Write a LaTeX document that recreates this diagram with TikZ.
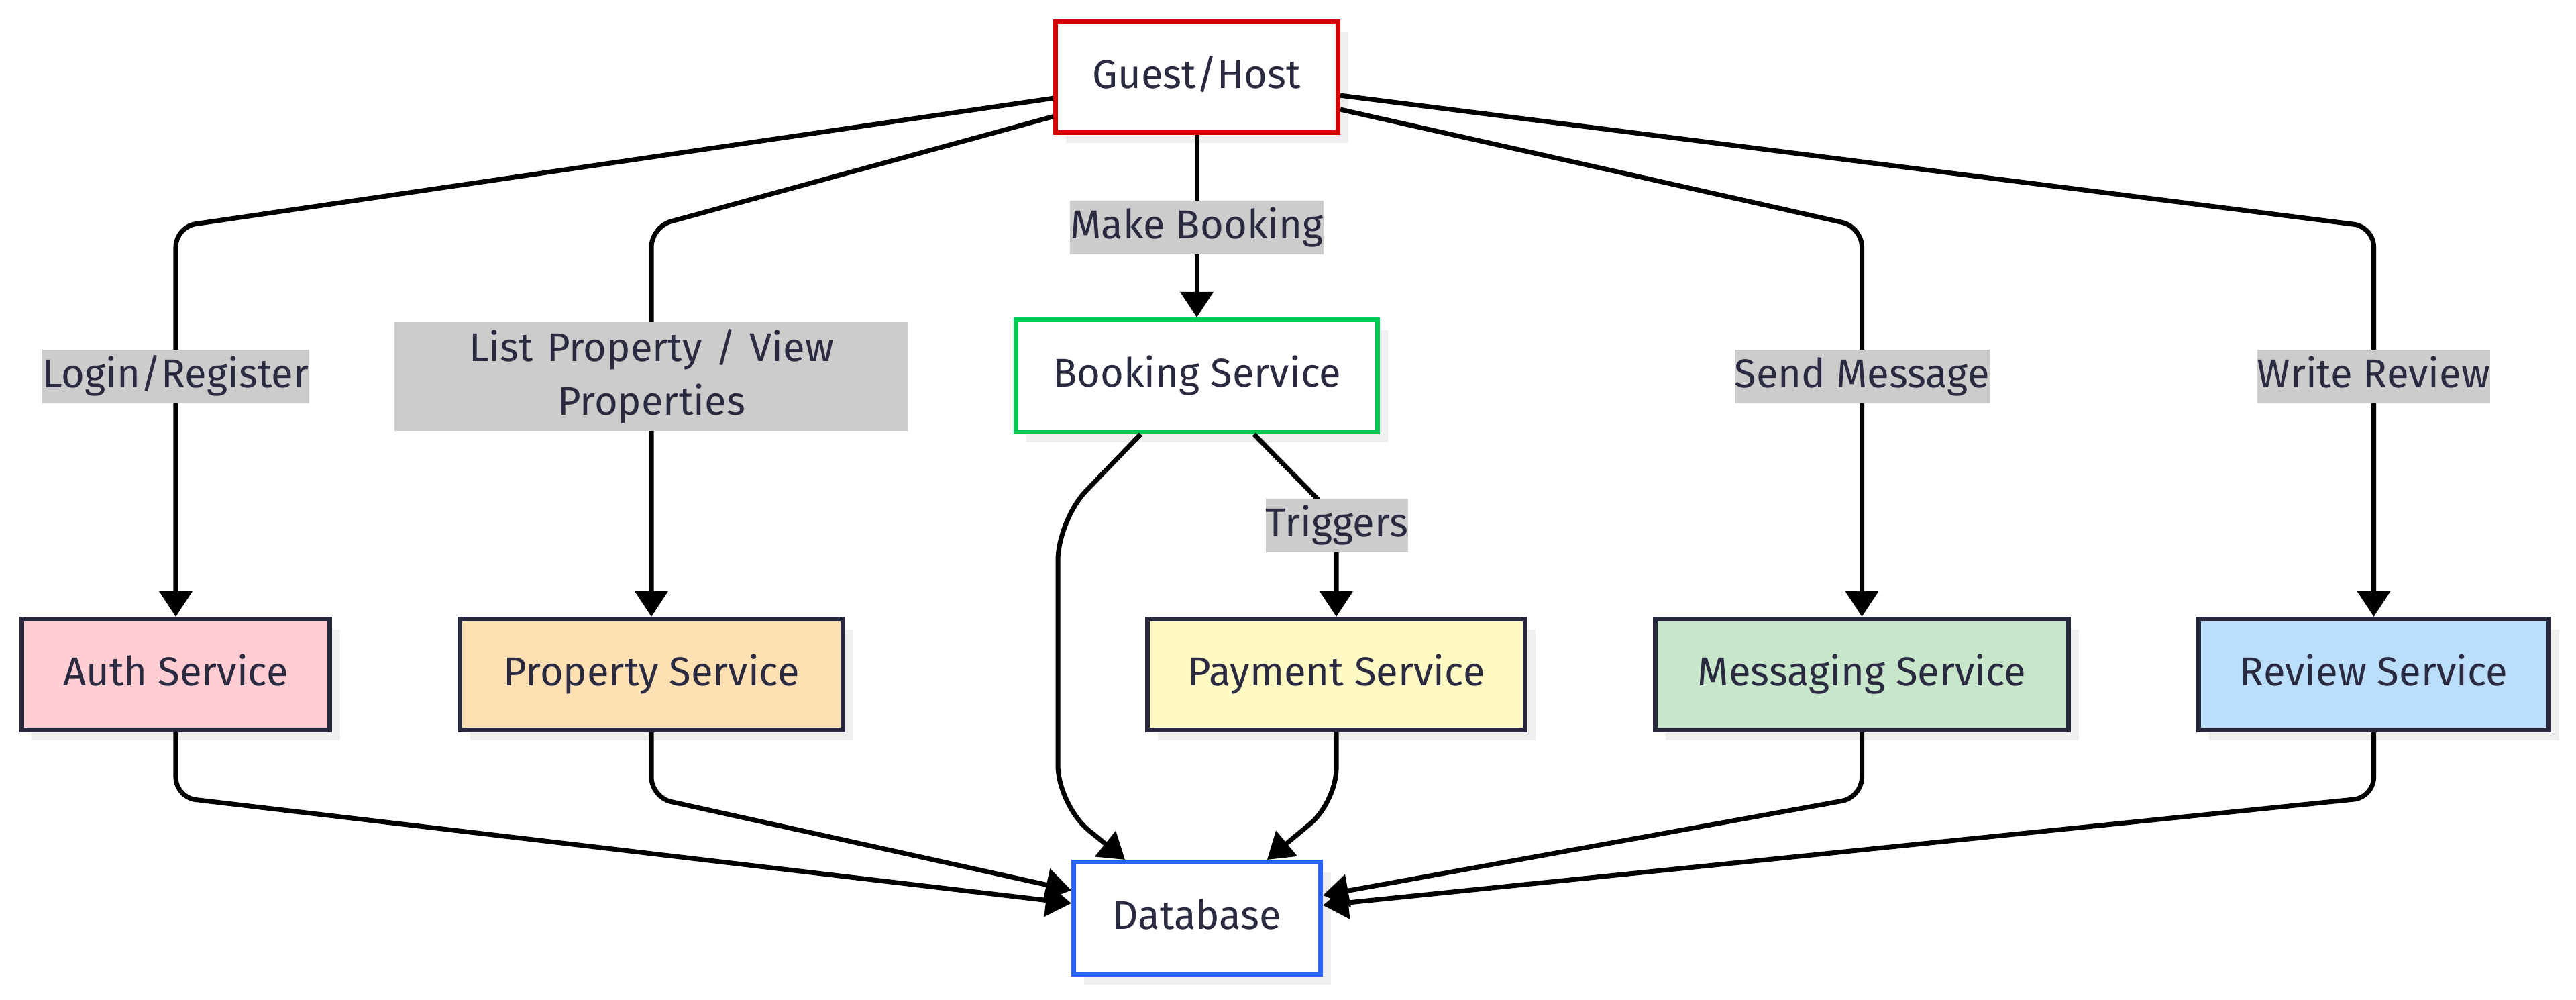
\documentclass[tikz,border=0pt]{standalone}
\usepackage{fontspec}
\setmainfont{Fira Sans}
\usetikzlibrary{arrows.meta, positioning, shadows}
\definecolor{guestred}{RGB}{213, 0, 0}
\definecolor{bookgreen}{RGB}{0, 200, 83}
\definecolor{dbblue}{RGB}{41, 98, 255}
\definecolor{svcline}{RGB}{40, 40, 60}
\definecolor{inkblue}{RGB}{42, 42, 64}
\definecolor{authpink}{RGB}{255, 205, 210}
\definecolor{proporange}{RGB}{255, 224, 178}
\definecolor{payyellow}{RGB}{255, 249, 196}
\definecolor{msggreen}{RGB}{200, 230, 201}
\definecolor{revblue}{RGB}{187, 222, 251}
\definecolor{lblgray}{RGB}{204, 204, 204}
\definecolor{shadowgray}{RGB}{239, 239, 239}

\tikzset{
  svcbox/.style={draw=svcline, line width=2pt, minimum height=1.65cm, text=inkblue,
    font=\fontsize{17}{20}\selectfont, text height=0.95em, text depth=0pt,
    drop shadow={shadow xshift=0.15cm, shadow yshift=-0.15cm, fill=shadowgray, opacity=1}},
  lblbase/.style={fill=lblgray, text=inkblue, inner xsep=0pt, inner ysep=0pt,
    font=\fontsize{17}{22.7}\selectfont},
  lbl/.style={lblbase, minimum height=0.8cm, text height=0.95em, text depth=0pt},
  flow/.style={line width=2pt, -{Triangle[length=0.38cm, width=0.48cm]}, rounded corners=0.3cm},
}

\begin{document}
\begin{tikzpicture}
  \useasboundingbox[fill=white] (0,0) rectangle (38.4,-14.89);

  % rows where the connectors bend
  \coordinate (toprow) at (0,-3.38);
  \coordinate (lblrow) at (0,-5.61);
  \coordinate (trigrow) at (0,-7.72);
  \coordinate (botrow) at (0,-11.88);
  \coordinate (payrow) at (0,-11.95);
  \coordinate (bookbendA) at (15.77,-7.75);
  \coordinate (bookbendB) at (15.77,-12.0);

  \node[svcbox, draw=guestred, fill=white, minimum width=4.21cm] (guest) at (17.84,-1.15) {Guest/Host};
  \node[svcbox, draw=bookgreen, fill=white, minimum width=5.39cm, minimum height=1.67cm] (booking) at (17.84,-5.60) {Booking Service};
  \node[svcbox, fill=authpink, minimum width=4.59cm] (auth) at (2.62,-10.05) {Auth Service};
  \node[svcbox, fill=proporange, minimum width=5.71cm] (property) at (9.71,-10.05) {Property Service};
  \node[svcbox, fill=payyellow, minimum width=5.63cm] (payment) at (19.92,-10.05) {Payment Service};
  \node[svcbox, fill=msggreen, minimum width=6.16cm] (messaging) at (27.755,-10.05) {Messaging Service};
  \node[svcbox, fill=revblue, minimum width=5.22cm] (review) at (35.385,-10.05) {Review Service};
  \node[svcbox, draw=dbblue, fill=white, minimum width=3.68cm, minimum height=1.67cm] (db) at (17.845,-13.68) {Database};

  % from the user
  \draw[flow] (guest) -- (auth |- toprow) -- (auth);
  \draw[flow] (guest) -- (property |- toprow) -- (property);
  \draw[flow] (guest) -- (booking);
  \draw[flow] (guest) -- (messaging |- toprow) -- (messaging);
  \draw[flow] (guest) -- (review |- toprow) -- (review);

  % booking side
  \draw[flow, rounded corners=0.6cm] (booking) -- (bookbendA) -- (bookbendB) -- (db);
  \draw[flow] (booking) -- (payment |- trigrow) -- (payment);
  \draw[flow, rounded corners=0.5cm] (payment) -- (payment |- payrow) -- (db);

  % into the database
  \draw[flow] (auth) -- (auth |- botrow) -- (db);
  \draw[flow] (property) -- (property |- botrow) -- (db);
  \draw[flow] (messaging) -- (messaging |- botrow) -- (db);
  \draw[flow] (review) -- (review |- botrow) -- (db);

  % edge labels
  \node[lbl] (lblogin) at (auth |- lblrow) {Login/Register};
  \node[lblbase, text width=7.66cm, align=center, minimum height=1.62cm] (lblist) at (property |- lblrow) {List Property / View\\Properties};
  \node[lbl] (lbbook) at (17.84,-3.39) {Make Booking};
  \node[lbl] (lbmsg) at (messaging |- lblrow) {Send Message};
  \node[lbl] (lbrev) at (review |- lblrow) {Write Review};
  \node[lbl] (lbtrig) at (19.93,-7.83) {Triggers};
\end{tikzpicture}
\end{document}
